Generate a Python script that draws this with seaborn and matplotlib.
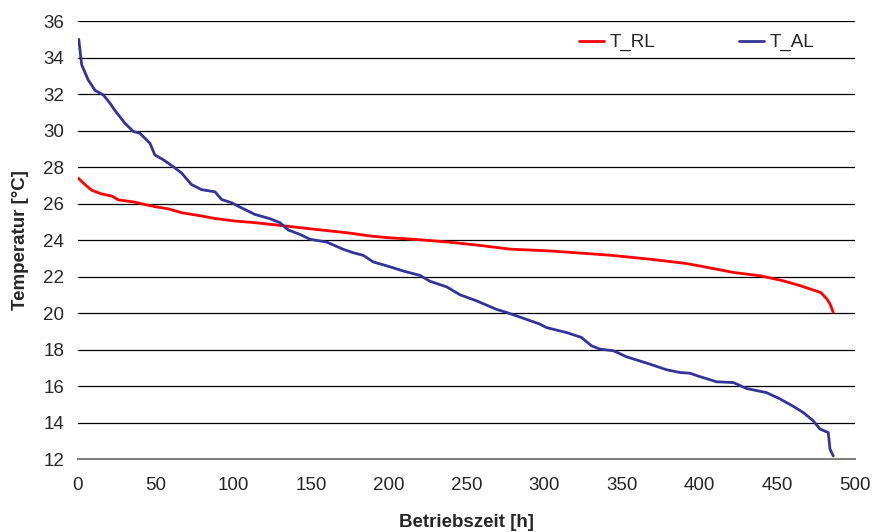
import seaborn as sns
import matplotlib.pyplot as plt
import pandas as pd

# duration curves
t_rl_x = [0, 4.5, 8.8, 15, 22, 26, 37, 41, 50, 58, 67, 80, 88, 101, 114, 130,
          152, 173, 188, 199, 216, 238, 259, 278, 304, 342, 368, 390, 400, 422,
          439, 454, 465, 478, 482, 484, 486]
t_rl_y = [27.4, 27.04, 26.73, 26.53, 26.4, 26.2, 26.07, 25.98, 25.82, 25.71,
          25.49, 25.31, 25.18, 25.04, 24.95, 24.8, 24.59, 24.4, 24.22, 24.13,
          24.04, 23.89, 23.7, 23.5, 23.4, 23.17, 22.95, 22.73, 22.58, 22.22,
          22.04, 21.76, 21.49, 21.12, 20.76, 20.48, 20.03]

t_al_x = [0.5, 2.4, 6.6, 11, 16.3, 20.6, 23.8, 30.2, 35.6, 39.9, 46.3, 49.5,
          54.9, 62.4, 66.7, 73, 79.5, 88.2, 92.4, 98.9, 105.3, 113.9, 123.5,
          130, 135.3, 142.8, 149.3, 160, 170.7, 177.2, 183.6, 190, 200.8,
          209.4, 220.1, 226.5, 237.3, 245.8, 256.4, 269.3, 275.8, 282, 297,
          301.5, 314.4, 324, 330.5, 336, 344.6, 353, 368, 378.8, 387.4, 393.8,
          400, 411, 421.7, 430.3, 443, 451.6, 460, 466.7, 473, 477.5, 482.8,
          483.9, 486]
t_al_y = [35.0, 33.6, 32.77, 32.2, 31.95, 31.5, 31.1, 30.4, 29.95, 29.85, 29.3,
          28.66, 28.4, 27.95, 27.67, 27.04, 26.76, 26.64, 26.22, 26.04, 25.76,
          25.4, 25.17, 24.95, 24.55, 24.31, 24.04, 23.89, 23.49, 23.3, 23.16,
          22.8, 22.53, 22.3, 22.06, 21.74, 21.43, 21.0, 20.67, 20.2, 20.03,
          19.85, 19.4, 19.2, 18.93, 18.66, 18.2, 18.02, 17.93, 17.6, 17.2,
          16.89, 16.74, 16.7, 16.52, 16.23, 16.19, 15.86, 15.64, 15.3, 14.9,
          14.55, 14.1, 13.64, 13.45, 12.54, 12.17]

df = pd.concat([
    pd.DataFrame({"zeit": t_rl_x, "temp": t_rl_y, "serie": "T_RL"}),
    pd.DataFrame({"zeit": t_al_x, "temp": t_al_y, "serie": "T_AL"}),
])

sns.set_style("white")
plt.rcParams['font.family'] = ['Liberation Sans', 'DejaVu Sans']

fig = plt.figure(figsize=(8.72, 5.32), dpi=100)
ax = fig.add_axes([0.0894, 0.1372, 0.8911, 0.8233])

sns.lineplot(data=df, x="zeit", y="temp", hue="serie", estimator=None,
             sort=False, palette={"T_RL": "#ff0000", "T_AL": "#333399"},
             linewidth=2.0, ax=ax)

ax.set_xlim(0, 500)
ax.set_ylim(12, 36)
ax.set_xticks(range(0, 501, 50))
ax.set_yticks(range(12, 37, 2))
ax.yaxis.grid(True, color="black", linewidth=0.9)
ax.set_axisbelow(True)
for s in ["left", "right", "top"]:
    ax.spines[s].set_visible(False)
ax.spines["bottom"].set_color("#808080")
ax.spines["bottom"].set_linewidth(1.5)
ax.tick_params(axis="x", direction="out", length=5, width=1.2, color="#808080",
               labelsize=13.5, pad=8)
ax.tick_params(axis="y", length=0, labelsize=13.5, pad=10)

ax.set_xlabel("Betriebszeit [h]", fontsize=13.5, fontweight="bold", labelpad=14)
ax.set_ylabel("Temperatur [°C]", fontsize=13.5, fontweight="bold", labelpad=10)

ax.legend(loc="upper right", bbox_to_anchor=(0.964, 1.0), ncol=2, frameon=False,
          fontsize=13.5, handlelength=1.3, handletextpad=0.3, columnspacing=4.5,
          borderaxespad=0.3)

plt.savefig("out.png", dpi=100)
